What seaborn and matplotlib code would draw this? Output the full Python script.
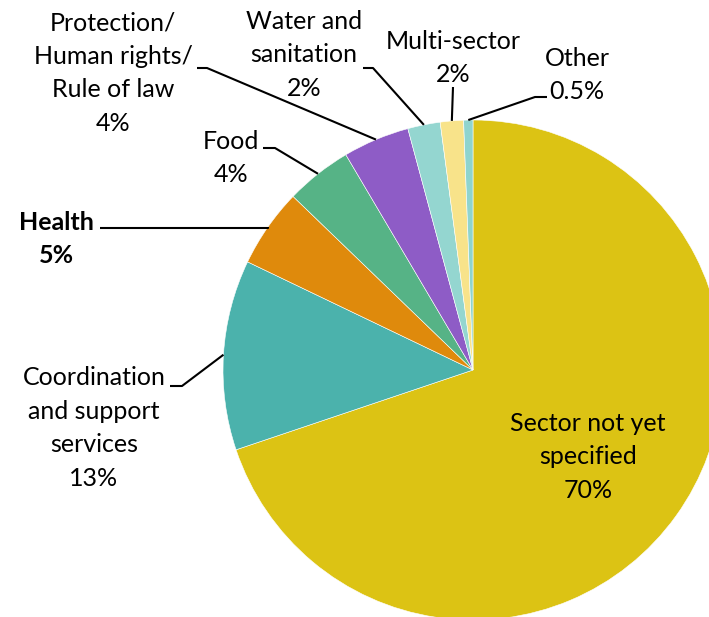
import numpy as np
import matplotlib
matplotlib.use("Agg")
import matplotlib.pyplot as plt
import seaborn as sns

# ---- data ----
sectors = ["Sector not yet specified", "Coordination and support services", "Health",
           "Food", "Protection/Human rights/Rule of law", "Water and sanitation",
           "Multi-sector", "Other"]
shares = [69.9, 12.3, 5.1, 4.3, 4.3, 2.1, 1.5, 0.6]
label_texts = ["Sector not yet\nspecified\n70%",
               "Coordination\nand support\nservices\n13%",
               "Health\n5%",
               "Food\n4%",
               "Protection/\nHuman rights/\nRule of law\n4%",
               "Water and\nsanitation\n2%",
               "Multi-sector\n2%",
               "Other\n0.5%"]
colors = ["#DCC314", "#4BB2AC", "#DF8A0C", "#56B386", "#8E5CC6", "#94D6D0", "#F8E38A", "#8FD4CE"]

sns.set_theme(style="white")
plt.rcParams['font.family'] = ['Lato', 'DejaVu Sans']

W, H = 709, 617
fig = plt.figure(figsize=(W / 100, H / 100), dpi=100)
ax = fig.add_axes([0, 0, 1, 1])
ax.set_xlim(0, W)
ax.set_ylim(0, H)
ax.set_aspect('equal')
ax.axis('off')

def Y(y):
    return H - y

cx, cy, R = 473, Y(370), 250
wedges, _ = ax.pie(shares, colors=colors, startangle=90, counterclock=False,
                   center=(cx, cy), radius=R,
                   wedgeprops=dict(linewidth=0.4, edgecolor="white"))
ax.set_xlim(0, W)
ax.set_ylim(0, H)

# label layout: (text center x, text center y (top-down), leader start x, y, elbow x, bold)
layout = [
    (588, 457, None, None, None, False),
    (94, 428, 170, 386, 182, False),
    (56, 239, 100, 228, 108, True),
    (231, 158, 263, 148, 275, False),
    (113, 73, 197, 68, 207, False),
    (304, 55, 363, 68, 373, False),
    (453, 58, 453, 87, 453, False),
    (577, 75, 547, 97, 535, False),
]

for w, txt, (tx, ty, lx, ly, ex, bold) in zip(wedges, label_texts, layout):
    ax.text(tx, Y(ty), txt, ha='center', va='center', fontsize=18,
            linespacing=1.55, color='black', fontweight='bold' if bold else 'normal')
    if lx is not None:
        mid = np.deg2rad((w.theta1 + w.theta2) / 2)
        px, py = cx + R * np.cos(mid), cy + R * np.sin(mid)
        if bold:
            ex = px
        ax.plot([lx, ex, px], [Y(ly), Y(ly), py], color='black', lw=1.5,
                solid_capstyle='butt')

fig.savefig("out.png", dpi=100)
